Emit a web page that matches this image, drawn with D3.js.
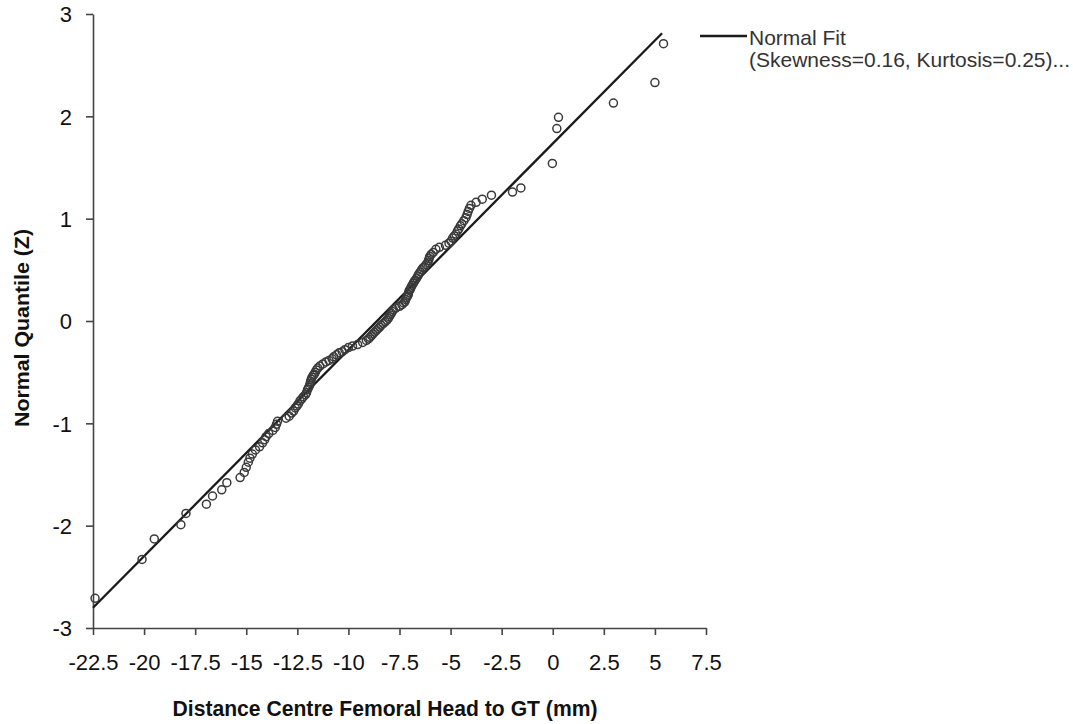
<!DOCTYPE html>
<html>
<head>
<meta charset="utf-8">
<script src="https://cdn.jsdelivr.net/npm/d3@7"></script>
<style>
  html,body{margin:0;padding:0;background:#fff;}
  svg{display:block;font-family:"Liberation Sans",Arial,sans-serif;}
  .axis path,.axis line{stroke:#444;stroke-width:1.6;}
  .axis text{font-size:22px;fill:#111;}
</style>
</head>
<body>
<div id="chart"></div>
<script>
// sorted sample (mm) against its normal quantile
const distMm = [
  -22.4,-20.1,-19.5,-18.2,-17.95,-16.95,-16.65,-16.2,-15.95,-15.3,
  -15.1,-15.0,-14.9,-14.82,-14.7,-14.55,-14.35,-14.2,-14.1,-14.03,
  -13.9,-13.7,-13.58,-13.52,-13.47,-13.05,-12.9,-12.78,-12.68,-12.6,
  -12.52,-12.45,-12.37,-12.28,-12.2,-12.1,-12.05,-12.0,-11.95,-11.9,
  -11.87,-11.85,-11.82,-11.78,-11.72,-11.67,-11.62,-11.57,-11.5,-11.4,
  -11.25,-11.1,-10.95,-10.8,-10.72,-10.58,-10.45,-10.3,-10.17,-10.0,
  -9.8,-9.55,-9.3,-9.12,-9.02,-8.95,-8.87,-8.8,-8.72,-8.63,
  -8.55,-8.47,-8.4,-8.3,-8.2,-8.12,-8.05,-8.0,-7.95,-7.9,
  -7.85,-7.8,-7.68,-7.5,-7.38,-7.3,-7.23,-7.2,-7.15,-7.1,
  -7.07,-7.05,-7.02,-6.97,-6.93,-6.88,-6.82,-6.78,-6.73,-6.66,
  -6.6,-6.55,-6.48,-6.42,-6.35,-6.27,-6.2,-6.12,-6.08,-6.05,
  -6.02,-5.95,-5.85,-5.72,-5.55,-5.25,-5.08,-4.98,-4.9,-4.82,
  -4.74,-4.66,-4.6,-4.52,-4.45,-4.35,-4.25,-4.19,-4.14,-4.08,
  -4.0,-3.75,-3.45,-3.0,-1.97,-1.56,-0.02,0.2,0.28,2.97,
  5.0,5.42
];
const normalZ = [
  -2.71,-2.33,-2.13,-1.99,-1.88,-1.79,-1.71,-1.65,-1.58,-1.53,
  -1.48,-1.43,-1.38,-1.34,-1.30,-1.26,-1.23,-1.19,-1.16,-1.13,
  -1.10,-1.07,-1.04,-1.01,-0.98,-0.95,-0.93,-0.90,-0.88,-0.85,
  -0.83,-0.81,-0.78,-0.76,-0.74,-0.72,-0.70,-0.67,-0.65,-0.63,
  -0.61,-0.59,-0.57,-0.55,-0.53,-0.52,-0.50,-0.48,-0.46,-0.44,
  -0.42,-0.40,-0.385,-0.37,-0.35,-0.33,-0.31,-0.30,-0.28,-0.26,
  -0.245,-0.23,-0.21,-0.19,-0.176,-0.16,-0.143,-0.126,-0.11,-0.092,
  -0.075,-0.059,-0.042,-0.025,-0.008,0.008,0.025,0.042,0.059,0.075,
  0.092,0.11,0.126,0.143,0.16,0.176,0.19,0.21,0.23,0.245,
  0.26,0.28,0.30,0.31,0.33,0.35,0.37,0.385,0.40,0.42,
  0.44,0.46,0.48,0.50,0.52,0.53,0.55,0.57,0.59,0.61,
  0.63,0.65,0.67,0.70,0.72,0.74,0.76,0.78,0.81,0.83,
  0.85,0.88,0.90,0.93,0.95,0.98,1.01,1.04,1.07,1.10,
  1.13,1.16,1.19,1.23,1.26,1.30,1.54,1.88,1.99,2.13,
  2.33,2.71
];
// normal fit line (mean / sd in mm) and the x-range it is drawn over
const fitMean = -8.6, fitSd = 4.96;
const fitRange = [-22.5, 5.35];

const xTicks = [-22.5,-20,-17.5,-15,-12.5,-10,-7.5,-5,-2.5,0,2.5,5,7.5];
const yTicks = [-3,-2,-1,0,1,2,3];
const legendLines = ["Normal Fit", "(Skewness=0.16, Kurtosis=0.25)..."];

const W=1073, H=724;
const svg=d3.select('#chart').append('svg').attr('width',W).attr('height',H);

const x=d3.scaleLinear().domain([-22.5,7.5]).range([93,706]);
const y=d3.scaleLinear().domain([-3,3]).range([628,14]);

// axes
svg.append('g').attr('class','axis').attr('transform','translate(0,628)')
  .call(d3.axisBottom(x).tickValues(xTicks).tickSize(7).tickSizeOuter(0).tickPadding(19).tickFormat(d=>String(d)));
svg.append('g').attr('class','axis').attr('transform','translate(93,0)')
  .call(d3.axisLeft(y).tickValues(yTicks).tickSize(7).tickSizeOuter(0).tickPadding(14).tickFormat(d=>String(d)))
  .selectAll('text').attr('dy','0.36em');

// fitted line
svg.append('line')
  .attr('x1',x(fitRange[0])).attr('y1',y((fitRange[0]-fitMean)/fitSd))
  .attr('x2',x(fitRange[1])).attr('y2',y((fitRange[1]-fitMean)/fitSd))
  .attr('stroke','#1a1a1a').attr('stroke-width',2.3);

// points
svg.append('g').selectAll('circle').data(distMm.map((v,i)=>[v,normalZ[i]])).join('circle')
  .attr('cx',d=>x(d[0])).attr('cy',d=>y(d[1])).attr('r',4)
  .attr('fill','none').attr('stroke','#3a3a3a').attr('stroke-width',1.5);

// axis titles
svg.append('text').attr('x',385).attr('y',716).attr('text-anchor','middle')
  .attr('font-size',22).attr('font-weight','bold').attr('fill','#111')
  .attr('textLength',425).attr('lengthAdjust','spacingAndGlyphs')
  .text('Distance Centre Femoral Head to GT (mm)');
svg.append('text').attr('transform','translate(29,328) rotate(-90)').attr('text-anchor','middle')
  .attr('font-size',21).attr('font-weight','bold').attr('fill','#111')
  .attr('textLength',198).attr('lengthAdjust','spacingAndGlyphs')
  .text('Normal Quantile (Z)');

// legend
const lg=svg.append('g').attr('transform','translate(700,36)');
lg.append('line').attr('x1',0).attr('x2',47).attr('y1',0).attr('y2',0).attr('stroke','#1a1a1a').attr('stroke-width',2.3);
lg.selectAll('text').data(legendLines).join('text')
  .attr('x',49).attr('y',(d,i)=>9+i*22).attr('font-size',21).attr('fill','#333').text(d=>d);
</script>
</body>
</html>
